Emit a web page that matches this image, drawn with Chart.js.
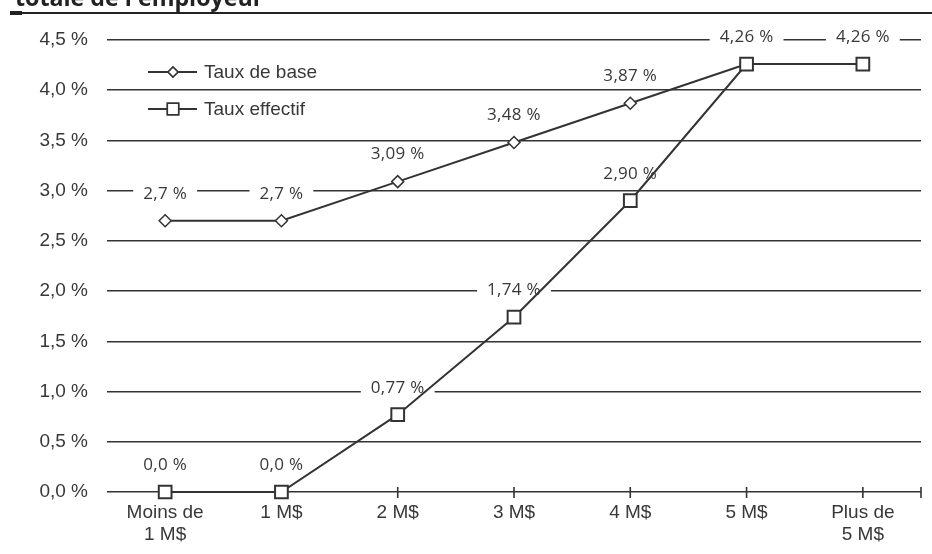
<!DOCTYPE html>
<html lang="fr">
<head>
  <meta charset="UTF-8">
  <title>Taux de base et taux effectif</title>
  <script src="https://cdn.jsdelivr.net/npm/chart.js"></script>
  <style>
    body {
      margin: 0;
      padding: 0;
      background: #fff;
    }
    #wrap {
      width: 932px;
      height: 554px;
      position: relative;
    }
  </style>
</head>
<body>
  <div id="wrap">
    <canvas id="chart" width="932" height="554"></canvas>
  </div>

  <script>
    // Data
    const categories = [['Moins de', '1 M$'], '1 M$', '2 M$', '3 M$', '4 M$', '5 M$', ['Plus de', '5 M$']];
    const tauxBase = [2.7, 2.7, 3.09, 3.48, 3.87, 4.26, 4.26];
    const tauxEffectif = [0, 0, 0.77, 1.74, 2.90, 4.26, 4.26];
    const baseLabels = ['2,7 %', '2,7 %', '3,09 %', '3,48 %', '3,87 %', null, null];
    const effectifLabels = ['0,0 %', '0,0 %', '0,77 %', '1,74 %', '2,90 %', '4,26 %', '4,26 %'];
    const yTicks = [0, 0.5, 1, 1.5, 2, 2.5, 3, 3.5, 4, 4.5];
    const titleText = "totale de l'employeur";

    const ink = '#333333';
    const textColor = '#383838';
    const labelFont = '17px "Open Sans"';

    // Title (cut off at the top) and the rule under it
    const titlePlugin = {
      id: 'titleRule',
      afterDraw(chart) {
        const ctx = chart.ctx;
        ctx.save();
        ctx.font = 'bold 20px "Open Sans"';
        const w = ctx.measureText(titleText).width;
        const size = 20 * 248 / w;
        ctx.font = 'bold ' + size.toFixed(1) + 'px "Open Sans"';
        ctx.fillStyle = '#222';
        ctx.textBaseline = 'alphabetic';
        ctx.fillText(titleText, 15, 6);
        ctx.fillRect(10, 12, 922, 2);
        ctx.fillRect(10, 11, 12, 4);
        ctx.restore();
      }
    };

    // White boxes behind value labels (cut the grid lines) and x tick marks
    const underPlugin = {
      id: 'underMarks',
      beforeDatasetsDraw(chart) {
        const ctx = chart.ctx;
        const xs = chart.scales.x;
        const y0 = chart.scales.y.getPixelForValue(0);
        ctx.save();
        ctx.font = labelFont;
        ctx.letterSpacing = '0.3px';
        [baseLabels, effectifLabels].forEach((labels, di) => {
          const meta = chart.getDatasetMeta(di);
          meta.data.forEach((pt, i) => {
            const txt = labels[i];
            if (!txt) return;
            const w = ctx.measureText(txt).width;
            ctx.fillStyle = '#fff';
            ctx.fillRect(pt.x - w / 2 - 10, pt.y - 28 - 9, w + 20, 18);
          });
        });
        ctx.strokeStyle = ink;
        ctx.lineWidth = 1.6;
        const positions = categories.map((c, i) => xs.getPixelForValue(i));
        positions.push(chart.chartArea.right);
        positions.forEach(x => {
          ctx.beginPath();
          ctx.moveTo(x, y0 - 5);
          ctx.lineTo(x, y0 + 6);
          ctx.stroke();
        });
        ctx.restore();
      }
    };

    // Value label texts
    const labelPlugin = {
      id: 'valueLabels',
      afterDatasetsDraw(chart) {
        const ctx = chart.ctx;
        ctx.save();
        ctx.font = labelFont;
        ctx.letterSpacing = '0.3px';
        ctx.textAlign = 'center';
        ctx.textBaseline = 'middle';
        ctx.fillStyle = textColor;
        [baseLabels, effectifLabels].forEach((labels, di) => {
          const meta = chart.getDatasetMeta(di);
          meta.data.forEach((pt, i) => {
            const txt = labels[i];
            if (!txt) return;
            ctx.fillText(txt, pt.x, pt.y - 27);
          });
        });
        ctx.restore();
      }
    };

    // Legend inside the plot area
    const legendPlugin = {
      id: 'innerLegend',
      afterDraw(chart) {
        const ctx = chart.ctx;
        const area = chart.chartArea;
        const items = [
          { text: 'Taux de base', style: 'rectRot', radius: 5 },
          { text: 'Taux effectif', style: 'rect', radius: 8 }
        ];
        ctx.save();
        ctx.font = '19px "Liberation Sans"';
        ctx.textBaseline = 'middle';
        items.forEach((it, i) => {
          const x0 = area.left + 41;
          const y = area.top + 32 + i * 37;
          ctx.strokeStyle = ink;
          ctx.lineWidth = 2;
          ctx.beginPath();
          ctx.moveTo(x0, y);
          ctx.lineTo(x0 + 49, y);
          ctx.stroke();
          ctx.fillStyle = '#fff';
          ctx.lineWidth = 1.5;
          Chart.helpers.drawPoint(ctx, { pointStyle: it.style, radius: it.radius, borderWidth: 1.5, rotation: 0 }, x0 + 25, y);
          ctx.fill();
          ctx.stroke();
          ctx.fillStyle = textColor;
          ctx.fillText(it.text, x0 + 56, y + 1);
        });
        ctx.restore();
      }
    };

    const ctx = document.getElementById('chart').getContext('2d');
    new Chart(ctx, {
      type: 'line',
      data: {
        labels: categories,
        datasets: [
          {
            label: 'Taux de base',
            data: tauxBase,
            order: 1,
            clip: false,
            borderColor: ink,
            borderWidth: 2,
            pointStyle: 'rectRot',
            pointRadius: 6,
            pointBorderWidth: 1.5,
            pointBackgroundColor: '#fff',
            pointBorderColor: ink,
            tension: 0
          },
          {
            label: 'Taux effectif',
            data: tauxEffectif,
            order: 0,
            clip: false,
            borderColor: ink,
            borderWidth: 2,
            pointStyle: 'rect',
            pointRadius: 9,
            pointBorderWidth: 2,
            pointBackgroundColor: '#fff',
            pointBorderColor: ink,
            tension: 0
          }
        ]
      },
      options: {
        responsive: false,
        animation: false,
        devicePixelRatio: 1,
        layout: {
          padding: { left: 0, right: 7, top: 40, bottom: 0 }
        },
        plugins: {
          legend: { display: false },
          tooltip: { enabled: false }
        },
        scales: {
          x: {
            type: 'category',
            offset: true,
            grid: { display: false, drawTicks: false },
            border: { display: false },
            ticks: {
              padding: 10,
              color: textColor,
              font: { family: 'Liberation Sans', size: 19, lineHeight: 1.15 },
              maxRotation: 0,
              autoSkip: false
            },
            afterFit(scale) { scale.height = 62; }
          },
          y: {
            min: 0,
            max: 4.5,
            afterBuildTicks(scale) {
              scale.ticks = yTicks.map(v => ({ value: v }));
            },
            grid: {
              color: ink,
              lineWidth: 1.6,
              drawTicks: false
            },
            border: { display: false },
            ticks: {
              padding: 19,
              color: textColor,
              font: { family: 'Liberation Sans', size: 19 },
              callback: v => v.toFixed(1).replace('.', ',') + ' %'
            },
            afterFit(scale) { scale.width = 107; }
          }
        }
      },
      plugins: [titlePlugin, underPlugin, labelPlugin, legendPlugin]
    });
  </script>
</body>
</html>
